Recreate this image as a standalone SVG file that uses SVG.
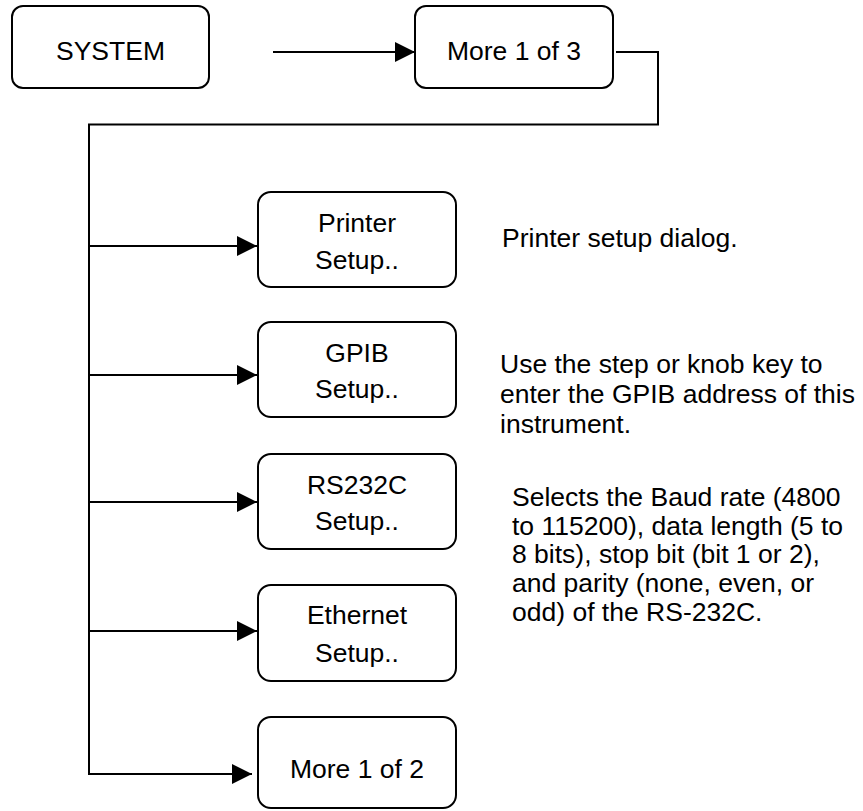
<svg xmlns="http://www.w3.org/2000/svg" width="863" height="811" viewBox="0 0 863 811">
<style>
.box{fill:#fff;stroke:#000;stroke-width:2}
.t{font-family:"Liberation Sans",Arial,sans-serif;font-size:26.5px;fill:#000}
.c{text-anchor:middle}
.ln{fill:none;stroke:#000;stroke-width:2}
</style>
<defs>
<marker id="ah" markerUnits="userSpaceOnUse" markerWidth="20" markerHeight="20" refX="20" refY="10" orient="auto" viewBox="0 0 20 20">
<path d="M0,0 L20,10 L0,20 Z" fill="#000"/>
</marker>
</defs>
<rect width="863" height="811" fill="#fff"/>
<g id="connectors">
<line class="ln" x1="273" y1="52" x2="415" y2="52" marker-end="url(#ah)"/>
<polyline class="ln" points="616,52 658,52 658,124.5 89,124.5 89,774 252,774" marker-end="url(#ah)"/>
<line class="ln" x1="89" y1="246" x2="257" y2="246" marker-end="url(#ah)"/>
<line class="ln" x1="89" y1="375" x2="257" y2="375" marker-end="url(#ah)"/>
<line class="ln" x1="89" y1="502" x2="257" y2="502" marker-end="url(#ah)"/>
<line class="ln" x1="89" y1="631" x2="257" y2="631" marker-end="url(#ah)"/>
</g>
<g id="system">
<rect class="box" x="12" y="6" width="197" height="82" rx="11"/>
<text class="t c" x="110.5" y="60">SYSTEM</text>
</g>
<g id="more13">
<rect class="box" x="415" y="6" width="198" height="82" rx="11"/>
<text class="t c" x="514" y="60">More 1 of 3</text>
</g>
<g id="printer">
<rect class="box" x="258" y="192" width="198" height="95" rx="13"/>
<text class="t c" x="357" y="232">Printer</text>
<text class="t c" x="357" y="269">Setup..</text>
</g>
<g id="gpib">
<rect class="box" x="258" y="322" width="198" height="95" rx="13"/>
<text class="t c" x="357" y="362">GPIB</text>
<text class="t c" x="357" y="398">Setup..</text>
</g>
<g id="rs232c">
<rect class="box" x="258" y="454" width="198" height="95" rx="13"/>
<text class="t c" x="357" y="494">RS232C</text>
<text class="t c" x="357" y="530">Setup..</text>
</g>
<g id="ethernet">
<rect class="box" x="258" y="585" width="198" height="96" rx="13"/>
<text class="t c" x="357" y="624">Ethernet</text>
<text class="t c" x="357" y="662">Setup..</text>
</g>
<g id="more12">
<rect class="box" x="258" y="717" width="198" height="91" rx="13"/>
<text class="t c" x="357" y="778">More 1 of 2</text>
</g>
<g id="descriptions">
<text class="t" x="502" y="247">Printer setup dialog.</text>
<text class="t" x="500" y="373">Use the step or knob key to</text>
<text class="t" x="500" y="403">enter the GPIB address of this</text>
<text class="t" x="500" y="433">instrument.</text>
<text class="t" x="512" y="506">Selects the Baud rate (4800</text>
<text class="t" x="512" y="535">to 115200), data length (5 to</text>
<text class="t" x="512" y="563">8 bits), stop bit (bit 1 or 2),</text>
<text class="t" x="512" y="592">and parity (none, even, or</text>
<text class="t" x="512" y="621">odd) of the RS-232C.</text>
</g>
</svg>
